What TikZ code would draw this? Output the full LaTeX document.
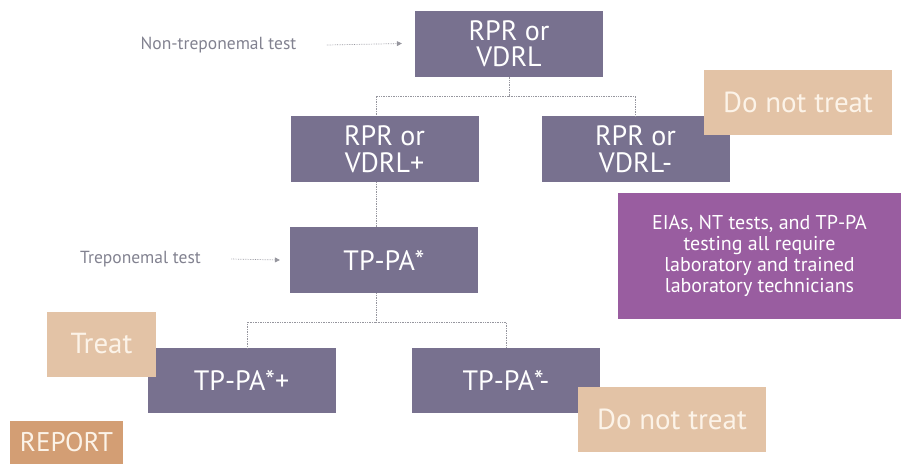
\documentclass[tikz,border=0pt]{standalone}
\usepackage{fontspec}
\setmainfont{PT Sans}
\usetikzlibrary{arrows.meta}
\definecolor{testgray}{RGB}{120,113,143}
\definecolor{notepurple}{RGB}{153,93,160}
\definecolor{treatbeige}{RGB}{227,195,166}
\definecolor{reporttan}{RGB}{211,158,116}
\definecolor{labelgray}{RGB}{130,130,144}
\definecolor{linkgray}{RGB}{150,150,158}
\definecolor{cream}{RGB}{252,243,232}

\begin{document}
\begin{tikzpicture}[x=1pt,y=-1pt,
    testbox/.style={fill=testgray, text=white, minimum width=188pt, minimum height=66pt,
        inner sep=0pt, align=center, font=\fontsize{28}{26.5}\selectfont},
    actbox/.style={fill=treatbeige, text=cream, minimum height=65pt, inner sep=0pt,
        font=\fontsize{29}{23}\selectfont},
    notebox/.style={fill=notepurple, text=white, minimum width=283pt, minimum height=126pt,
        inner sep=0pt, align=center, font=\fontsize{20}{21}\selectfont},
    sidelabel/.style={text=labelgray, font=\fontsize{17.5}{20}\selectfont},
    link/.style={linkgray, densely dotted, line width=0.7pt},
    pointer/.style={link, -{Triangle[length=5pt,width=5pt]}}]
\useasboundingbox (0,0) rectangle (901,464);

% first test
\node[testbox] (rpr) at (509,43.5) {RPR or\\VDRL};
\node[sidelabel] (nontrep) at (218.5,45) {Non-treponemal test};
\draw[pointer] ([xshift=27pt]nontrep.east) -- ([xshift=-13pt]rpr.west);

\node[testbox] (rprpos) at (384.5,149) {RPR or\\VDRL+};
\node[testbox] (rprneg) at (635.5,149) {RPR or\\VDRL-};
\coordinate (split1) at (509,96);
\draw[link] (rpr.south) -- (split1);
\draw[link] (split1) -| ([xshift=-8.5pt]rprpos.north);
\draw[link] (split1) -| (rprneg.north);
\node[actbox, minimum width=188pt] (notreat1) at (798,102.5) {Do not treat};

\node[notebox] (note) at (759.5,256) {EIAs, NT tests, and TP-PA\\testing all require\\laboratory and trained\\laboratory technicians};

% second test
\node[testbox] (tppa) at (384,260) {TP-PA*};
\node[sidelabel] (trep) at (140.5,259) {Treponemal test};
\draw[pointer] ([xshift=27pt]trep.east) -- ([xshift=-10pt]tppa.west);
\draw[link] ([xshift=-8.5pt]rprpos.south) -- ([xshift=-8.5pt]rprpos.south |- tppa.north);

\node[testbox, minimum height=65pt] (tppapos) at (241.5,380.5) {TP-PA*+};
\node[testbox, minimum height=65pt] (tppaneg) at (506,380.5) {TP-PA*-};
\coordinate (split2) at (376,322);
\draw[link] (split2 |- tppa.south) -- (split2);
\draw[link] (split2) -| ([xshift=5.5pt]tppapos.north);
\draw[link] (split2) -| (tppaneg.north);

\node[actbox, minimum width=109pt] (treat) at (101.5,344) {Treat};
\node[actbox, minimum width=188pt] (notreat2) at (672,419.5) {Do not treat};
\node[actbox, fill=reporttan, minimum width=113pt, minimum height=43pt,
    font=\fontsize{27}{22}\selectfont] (report) at (66.5,442.5) {REPORT};
\end{tikzpicture}
\end{document}
